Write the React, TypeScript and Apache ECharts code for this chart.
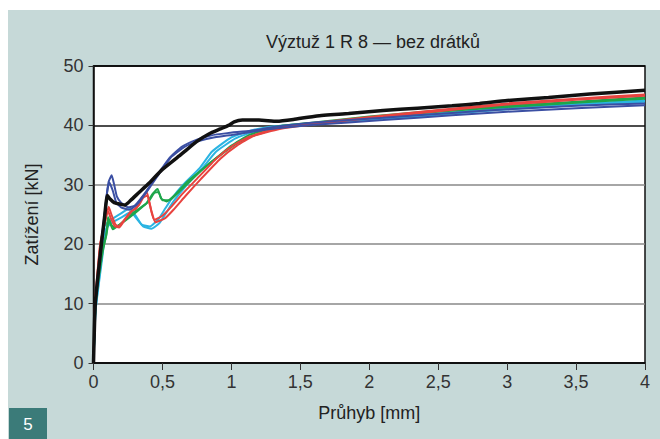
import React, { useEffect, useRef } from "react";
import * as echarts from "echarts";

const titleText = "Výztuž 1 R 8 — bez drátků";
const xAxisName = "Průhyb [mm]";
const yAxisName = "Zatížení [kN]";
const figureNumber = "5";

const blackCurve: number[][] = [[0,0],[0.013,10],[0.057,20],[0.08,24.5],[0.1,28.2],[0.12,27.6],[0.15,27],[0.2,26.7],[0.23,26.6],[0.27,27.4],[0.33,28.7],[0.4,30.2],[0.5,32.6],[0.64,35.2],[0.75,37.3],[0.84,38.6],[0.92,39.4],[0.98,40],[1.02,40.6],[1.08,40.9],[1.2,40.9],[1.33,40.7],[1.45,41],[1.62,41.6],[1.85,42],[2.1,42.5],[2.35,42.9],[2.6,43.3],[2.8,43.7],[3.0,44.2],[3.3,44.7],[3.6,45.3],[4.0,45.9]];

const blueA: number[][] = [[0,0],[0.015,10],[0.06,20],[0.09,27],[0.11,30.5],[0.132,31.6],[0.15,30],[0.17,28],[0.2,27],[0.25,26.2],[0.3,26.5],[0.38,28.8],[0.47,31.9],[0.55,34.5],[0.64,36.4],[0.75,37.6],[0.85,38.3],[0.97,38.7],[1.14,39.1],[1.33,39.8],[1.6,40.5],[2.1,41.3],[2.6,42.1],[3.0,42.7],[3.5,43.3],[4.0,43.7]];
const blueB: number[][] = [[0,0],[0.013,10],[0.055,20],[0.085,26],[0.1,29],[0.115,30.4],[0.14,29],[0.165,27],[0.2,26.2],[0.26,25.8],[0.32,26.8],[0.4,29.3],[0.48,32],[0.56,34.6],[0.66,36.4],[0.77,37.4],[0.88,38],[1.0,38.4],[1.14,38.9],[1.33,39.5],[1.6,40.1],[2.1,40.9],[2.6,41.7],[3.0,42.3],[3.5,42.9],[4.0,43.4]];

const redA: number[][] = [[0,0],[0.012,10],[0.05,20],[0.09,24.5],[0.11,26.3],[0.13,25],[0.16,23.3],[0.18,23],[0.22,24],[0.27,25.5],[0.31,26],[0.35,27.8],[0.386,28.8],[0.41,26.5],[0.44,24.1],[0.5,24.8],[0.56,26.2],[0.65,28.6],[0.75,31],[0.89,34.4],[1.01,36.6],[1.13,38.1],[1.33,39.5],[1.6,40.4],[2.0,41.4],[2.5,42.6],[3.0,43.7],[3.5,44.5],[4.0,45.2]];
const redB: number[][] = [[0,0],[0.011,10],[0.048,20],[0.085,24],[0.105,25.6],[0.125,24.4],[0.155,23],[0.185,22.8],[0.23,24.2],[0.28,25.6],[0.33,26.6],[0.36,27.8],[0.39,28.2],[0.42,25.6],[0.45,23.7],[0.52,24.4],[0.58,25.8],[0.67,28.2],[0.78,31],[0.92,34.4],[1.04,36.6],[1.16,38.2],[1.35,39.4],[1.6,40.2],[2.0,41.2],[2.5,42.4],[3.0,43.5],[3.5,44.3],[4.0,45.0]];

const greenA: number[][] = [[0,0],[0.015,10],[0.06,18.5],[0.093,21.5],[0.105,24.6],[0.115,24],[0.14,22.5],[0.2,23.5],[0.3,25.5],[0.38,26.8],[0.43,28.5],[0.465,29.3],[0.49,27.7],[0.53,27.2],[0.6,28.5],[0.68,30.5],[0.8,32.8],[0.89,34.5],[1.0,36.6],[1.13,38.4],[1.33,39.8],[1.6,40.5],[2.0,41.5],[2.5,42.5],[3.0,43.3],[3.5,44],[4.0,44.7]];
const greenB: number[][] = [[0,0],[0.016,10],[0.065,18.5],[0.1,22.5],[0.112,24.2],[0.125,23.4],[0.15,22.8],[0.22,23.8],[0.32,25.6],[0.4,27.2],[0.44,28.6],[0.47,28.8],[0.5,27.4],[0.55,27.4],[0.62,28.8],[0.7,30.6],[0.82,33.2],[0.92,35],[1.03,36.8],[1.15,38.2],[1.35,39.6],[1.6,40.3],[2.0,41.3],[2.5,42.3],[3.0,43.1],[3.5,43.8],[4.0,44.5]];

const cyanA: number[][] = [[0,0],[0.015,9],[0.06,18],[0.08,23],[0.12,24],[0.2,25.2],[0.26,26],[0.3,25],[0.35,23.3],[0.41,23],[0.47,24.2],[0.52,26],[0.565,27.6],[0.65,30],[0.77,32.8],[0.86,35.6],[1.0,38],[1.15,39.2],[1.33,39.9],[1.6,40.4],[2.0,41.1],[2.5,42],[3.0,42.9],[3.5,43.6],[4.0,44.2]];
const cyanB: number[][] = [[0,0],[0.016,9],[0.065,18],[0.09,22.5],[0.13,23.6],[0.21,24.6],[0.27,25.4],[0.31,24.4],[0.36,23],[0.42,22.6],[0.48,23.6],[0.53,25.4],[0.58,27.2],[0.67,29.8],[0.79,32.8],[0.89,35.6],[1.03,37.8],[1.17,39],[1.35,39.7],[1.6,40.2],[2.0,40.9],[2.5,41.8],[3.0,42.7],[3.5,43.4],[4.0,44.0]];

const FONT = "'Liberation Sans', Arial, Helvetica, sans-serif";

export default function App() {
  const ref = useRef<HTMLDivElement>(null);
  useEffect(() => {
    if (!ref.current) return;
    const chart = echarts.init(ref.current, undefined, { renderer: "svg" });
    const line = (data: number[][], color: string, width: number, z = 2) => ({
      type: "line",
      data,
      showSymbol: false,
      smooth: 0.15,
      z,
      lineStyle: { color, width },
      emphasis: { disabled: true },
    });
    chart.setOption({
      animation: false,
      backgroundColor: "transparent",
      textStyle: { fontFamily: FONT },
      title: {
        text: titleText,
        left: 368,
        top: 28,
        textAlign: "center",
        textStyle: { fontFamily: FONT, fontSize: 18, fontWeight: "normal", color: "#222" },
      },
      grid: {
        left: 93.5,
        right: 15,
        top: 66,
        bottom: 76,
        show: true,
        backgroundColor: "#fff",
        borderColor: "#111",
        borderWidth: 1.5,
      },
      xAxis: {
        type: "value",
        min: 0,
        max: 4,
        interval: 0.5,
        name: xAxisName,
        nameLocation: "middle",
        nameGap: 41,
        nameTextStyle: { fontFamily: FONT, fontSize: 18, color: "#222" },
        axisLine: { lineStyle: { color: "#111", width: 1.5 } },
        axisTick: { show: true, length: 7, lineStyle: { color: "#333" } },
        axisLabel: {
          margin: 10,
          fontSize: 18,
          color: "#333",
          fontFamily: FONT,
          formatter: (v: number) => String(v).replace(".", ","),
        },
        splitLine: { show: false },
      },
      yAxis: {
        type: "value",
        min: 0,
        max: 50,
        interval: 10,
        name: yAxisName,
        nameLocation: "middle",
        nameGap: 53,
        nameTextStyle: { fontFamily: FONT, fontSize: 18, color: "#222" },
        axisLine: { show: true, lineStyle: { color: "#111", width: 1.5 } },
        axisTick: { show: true, inside: false, length: 5, lineStyle: { color: "#333" } },
        axisLabel: { margin: 10, fontSize: 18, color: "#333", fontFamily: FONT },
        splitLine: {
          show: true,
          lineStyle: { color: ["#000", "#888", "#888", "#888", "#111", "#000"], width: 1.5 },
        },
      },
      graphic: [
        {
          type: "rect",
          left: 9,
          top: 408,
          shape: { width: 38, height: 31 },
          style: { fill: "#3b7b79" },
        },
        {
          type: "text",
          x: 28,
          y: 424,
          style: {
            text: figureNumber,
            fill: "#fff",
            fontSize: 17,
            fontFamily: FONT,
            align: "center",
            verticalAlign: "middle",
          },
        },
      ],
      series: [
        line(cyanA, "#2bb4e2", 2),
        line(cyanB, "#2bb4e2", 2),
        line(greenA, "#1da64a", 2),
        line(greenB, "#1da64a", 2),
        line(redA, "#e8433f", 2),
        line(redB, "#e8433f", 2),
        line(blueA, "#3b4fa3", 2),
        line(blueB, "#3b4fa3", 2),
        line(blackCurve, "#111", 3.5, 5),
      ],
    });
    return () => chart.dispose();
  }, []);
  return (
    <div style={{ position: "fixed", left: 0, top: 0, width: 660, height: 439, background: "#fff" }}>
      <div style={{ position: "absolute", left: 8, top: 10, width: 652, height: 429, background: "#c6d9d8" }} />
      <div ref={ref} style={{ position: "absolute", left: 0, top: 0, width: 660, height: 439 }} />
    </div>
  );
}
